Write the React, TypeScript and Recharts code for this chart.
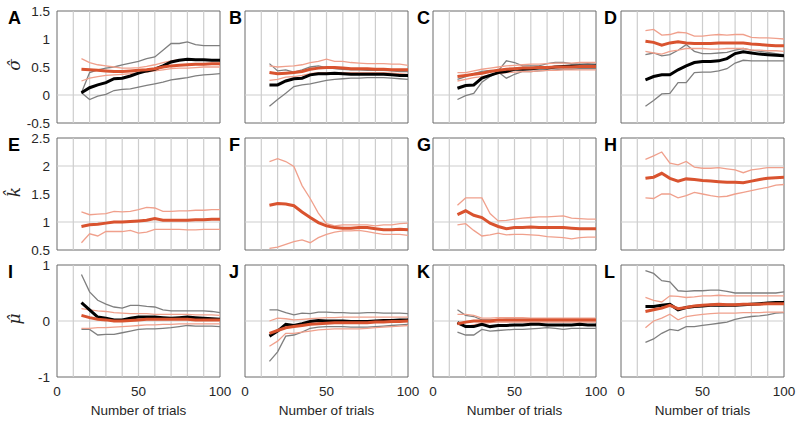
import React from 'react';
import { LineChart, Line, XAxis, YAxis, ReferenceLine, ReferenceArea } from 'recharts';

const trials = [15, 20, 25, 30, 35, 40, 45, 50, 55, 60, 65, 70, 75, 80, 85, 90, 95, 100];
const xTicks = [0, 50, 100];
const xGrid = [10, 20, 30, 40, 50, 60, 70, 80, 90];

const panelLetters = ['A', 'B', 'C', 'D', 'E', 'F', 'G', 'H', 'I', 'J', 'K', 'L'];
const rowLabels = ['σ̂', 'k̂', 'μ̂'];
const xAxisTitle = 'Number of trials';

const sigmaDomain = [-0.5, 1.5];
const sigmaTicks = [-0.5, 0, 0.5, 1, 1.5];
const sigmaGrid = [0];
const kappaDomain = [0.5, 2.5];
const kappaTicks = [0.5, 1, 1.5, 2, 2.5];
const kappaGrid = [1, 2];
const muDomain = [-1, 1];
const muTicks = [-1, 0, 1];
const muGrid = [0];

// Panel A (sigma)
const aObs = [0.04, 0.13, 0.18, 0.22, 0.29, 0.30, 0.34, 0.39, 0.43, 0.46, 0.52, 0.59, 0.62, 0.64, 0.63, 0.63, 0.62, 0.62];
const aObsHi = [0.04, 0.40, 0.45, 0.48, 0.50, 0.54, 0.57, 0.60, 0.65, 0.68, 0.80, 0.92, 0.92, 0.95, 0.90, 0.88, 0.88, 0.88];
const aObsLo = [0.04, -0.08, -0.02, 0.01, 0.08, 0.10, 0.11, 0.14, 0.17, 0.20, 0.23, 0.27, 0.29, 0.31, 0.34, 0.36, 0.37, 0.38];
const aFit = [0.46, 0.45, 0.44, 0.43, 0.42, 0.42, 0.43, 0.44, 0.45, 0.47, 0.50, 0.52, 0.53, 0.54, 0.55, 0.55, 0.56, 0.56];
const aFitHi = [0.65, 0.58, 0.54, 0.52, 0.50, 0.48, 0.48, 0.49, 0.51, 0.54, 0.58, 0.61, 0.63, 0.63, 0.63, 0.63, 0.63, 0.63];
const aFitLo = [0.25, 0.30, 0.33, 0.35, 0.36, 0.37, 0.38, 0.40, 0.41, 0.43, 0.45, 0.47, 0.48, 0.48, 0.49, 0.50, 0.50, 0.50];

// Panel B (sigma)
const bObs = [0.18, 0.18, 0.25, 0.29, 0.30, 0.36, 0.38, 0.38, 0.39, 0.38, 0.37, 0.37, 0.37, 0.37, 0.37, 0.36, 0.35, 0.35];
const bObsHi = [0.56, 0.43, 0.45, 0.41, 0.45, 0.50, 0.52, 0.49, 0.47, 0.46, 0.45, 0.45, 0.44, 0.44, 0.44, 0.43, 0.42, 0.42];
const bObsLo = [-0.20, -0.08, 0.03, 0.15, 0.18, 0.20, 0.23, 0.26, 0.28, 0.29, 0.30, 0.30, 0.31, 0.31, 0.31, 0.30, 0.29, 0.28];
const bFit = [0.40, 0.38, 0.39, 0.40, 0.42, 0.46, 0.48, 0.49, 0.49, 0.48, 0.47, 0.47, 0.47, 0.46, 0.46, 0.45, 0.45, 0.45];
const bFitHi = [0.52, 0.50, 0.51, 0.52, 0.54, 0.58, 0.60, 0.64, 0.60, 0.60, 0.58, 0.57, 0.56, 0.56, 0.56, 0.55, 0.55, 0.53];
const bFitLo = [0.26, 0.28, 0.32, 0.33, 0.35, 0.38, 0.40, 0.40, 0.40, 0.40, 0.40, 0.40, 0.40, 0.40, 0.40, 0.39, 0.38, 0.37];

// Panel C (sigma)
const cObs = [0.12, 0.17, 0.18, 0.30, 0.35, 0.40, 0.42, 0.46, 0.46, 0.47, 0.48, 0.48, 0.50, 0.51, 0.52, 0.52, 0.52, 0.52];
const cObsHi = [0.28, 0.33, 0.38, 0.42, 0.44, 0.43, 0.61, 0.58, 0.52, 0.52, 0.52, 0.56, 0.58, 0.58, 0.56, 0.55, 0.56, 0.55];
const cObsLo = [-0.08, -0.01, 0.03, 0.23, 0.33, 0.41, 0.30, 0.37, 0.42, 0.42, 0.43, 0.44, 0.45, 0.46, 0.46, 0.47, 0.47, 0.47];
const cFit = [0.33, 0.35, 0.37, 0.39, 0.42, 0.44, 0.46, 0.47, 0.48, 0.48, 0.49, 0.49, 0.50, 0.50, 0.50, 0.51, 0.51, 0.51];
const cFitHi = [0.40, 0.40, 0.43, 0.46, 0.48, 0.50, 0.52, 0.53, 0.54, 0.55, 0.55, 0.56, 0.57, 0.57, 0.57, 0.58, 0.58, 0.58];
const cFitLo = [0.25, 0.28, 0.31, 0.33, 0.36, 0.38, 0.40, 0.41, 0.42, 0.42, 0.43, 0.44, 0.44, 0.45, 0.45, 0.45, 0.45, 0.45];

// Panel D (sigma)
const dObs = [0.27, 0.33, 0.36, 0.36, 0.45, 0.52, 0.58, 0.60, 0.60, 0.61, 0.65, 0.74, 0.77, 0.75, 0.73, 0.72, 0.71, 0.70];
const dObsHi = [0.72, 0.75, 0.70, 0.72, 0.80, 0.90, 0.78, 0.74, 0.74, 0.75, 0.76, 0.80, 0.83, 0.80, 0.78, 0.76, 0.74, 0.72];
const dObsLo = [-0.20, -0.10, 0.02, 0.03, 0.22, 0.22, 0.40, 0.41, 0.41, 0.43, 0.47, 0.57, 0.62, 0.61, 0.61, 0.61, 0.61, 0.61];
const dFit = [0.96, 0.94, 0.89, 0.93, 0.95, 0.93, 0.92, 0.92, 0.92, 0.93, 0.93, 0.93, 0.93, 0.91, 0.90, 0.89, 0.88, 0.88];
const dFitHi = [1.15, 1.17, 1.07, 1.08, 1.12, 1.11, 1.05, 1.05, 1.07, 1.08, 1.07, 1.08, 1.08, 1.03, 1.02, 1.02, 1.01, 1.00];
const dFitLo = [0.78, 0.75, 0.73, 0.78, 0.80, 0.83, 0.83, 0.83, 0.82, 0.82, 0.83, 0.83, 0.83, 0.80, 0.80, 0.79, 0.79, 0.78];

// Panel E (kappa)
const eFit = [0.92, 0.95, 0.96, 0.98, 1.00, 1.00, 1.01, 1.02, 1.03, 1.06, 1.03, 1.03, 1.03, 1.03, 1.04, 1.04, 1.05, 1.05];
const eFitHi = [1.18, 1.13, 1.14, 1.15, 1.19, 1.18, 1.19, 1.22, 1.26, 1.25, 1.19, 1.19, 1.20, 1.20, 1.21, 1.21, 1.22, 1.22];
const eFitLo = [0.63, 0.79, 0.75, 0.83, 0.83, 0.83, 0.85, 0.80, 0.82, 0.87, 0.87, 0.87, 0.87, 0.86, 0.86, 0.87, 0.87, 0.87];

// Panel F (kappa)
const fFit = [1.30, 1.33, 1.32, 1.29, 1.18, 1.08, 0.99, 0.93, 0.90, 0.89, 0.89, 0.90, 0.90, 0.88, 0.86, 0.86, 0.87, 0.86];
const fFitHi = [2.08, 2.13, 2.08, 1.99, 1.65, 1.42, 1.16, 0.97, 0.93, 0.95, 0.95, 0.95, 0.95, 0.93, 0.95, 0.95, 0.97, 0.98];
const fFitLo = [0.53, 0.55, 0.60, 0.65, 0.68, 0.63, 0.72, 0.78, 0.82, 0.84, 0.84, 0.85, 0.83, 0.80, 0.78, 0.78, 0.78, 0.76];

// Panel G (kappa)
const gFit = [1.13, 1.20, 1.12, 1.08, 0.98, 0.92, 0.88, 0.90, 0.90, 0.91, 0.90, 0.90, 0.90, 0.90, 0.89, 0.88, 0.88, 0.88];
const gFitHi = [1.30, 1.43, 1.43, 1.43, 1.15, 1.02, 1.03, 1.05, 1.07, 1.08, 1.09, 1.09, 1.10, 1.11, 1.07, 1.06, 1.05, 1.05];
const gFitLo = [0.95, 0.97, 0.85, 0.75, 0.77, 0.80, 0.77, 0.78, 0.78, 0.77, 0.76, 0.74, 0.73, 0.72, 0.70, 0.72, 0.73, 0.73];

// Panel H (kappa)
const hFit = [1.78, 1.80, 1.87, 1.78, 1.73, 1.77, 1.76, 1.74, 1.73, 1.72, 1.71, 1.71, 1.70, 1.73, 1.76, 1.78, 1.79, 1.80];
const hFitHi = [2.12, 2.18, 2.25, 2.05, 2.02, 2.08, 1.98, 1.96, 1.96, 1.97, 1.95, 1.93, 1.88, 1.93, 1.95, 1.97, 1.97, 1.97];
const hFitLo = [1.43, 1.42, 1.50, 1.50, 1.43, 1.47, 1.53, 1.50, 1.47, 1.45, 1.46, 1.50, 1.53, 1.56, 1.59, 1.62, 1.66, 1.67];

// Panel I (mu)
const iObs = [0.33, 0.20, 0.07, 0.05, 0.02, 0.02, 0.05, 0.07, 0.07, 0.07, 0.06, 0.05, 0.06, 0.07, 0.06, 0.05, 0.04, 0.03];
const iObsHi = [0.83, 0.52, 0.37, 0.30, 0.25, 0.23, 0.28, 0.28, 0.26, 0.25, 0.20, 0.18, 0.18, 0.18, 0.18, 0.18, 0.17, 0.15];
const iObsLo = [-0.15, -0.15, -0.25, -0.24, -0.24, -0.21, -0.18, -0.15, -0.14, -0.14, -0.13, -0.12, -0.10, -0.08, -0.09, -0.09, -0.09, -0.10];
const iFit = [0.10, 0.06, 0.03, 0.02, 0.00, 0.00, 0.01, 0.02, 0.03, 0.03, 0.03, 0.03, 0.03, 0.03, 0.02, 0.02, 0.02, 0.02];
const iFitHi = [0.22, 0.20, 0.18, 0.17, 0.15, 0.14, 0.13, 0.13, 0.13, 0.12, 0.12, 0.12, 0.12, 0.12, 0.11, 0.11, 0.11, 0.10];
const iFitLo = [-0.13, -0.13, -0.12, -0.12, -0.11, -0.10, -0.09, -0.08, -0.07, -0.07, -0.06, -0.06, -0.05, -0.05, -0.05, -0.05, -0.05, -0.05];

// Panel J (mu)
const jObs = [-0.27, -0.18, -0.06, -0.08, -0.05, -0.01, 0.01, 0.00, 0.00, 0.00, -0.01, -0.01, -0.01, 0.00, 0.01, 0.01, 0.02, 0.02];
const jObsHi = [0.20, 0.20, 0.15, 0.11, 0.14, 0.13, 0.16, 0.16, 0.15, 0.15, 0.14, 0.14, 0.15, 0.15, 0.14, 0.14, 0.14, 0.13];
const jObsLo = [-0.72, -0.55, -0.27, -0.25, -0.20, -0.13, -0.11, -0.10, -0.10, -0.10, -0.11, -0.11, -0.11, -0.10, -0.09, -0.08, -0.07, -0.06];
const jFit = [-0.22, -0.17, -0.12, -0.10, -0.08, -0.06, -0.05, -0.04, -0.03, -0.03, -0.03, -0.03, -0.03, -0.02, -0.02, -0.01, -0.01, 0.00];
const jFitHi = [0.00, 0.05, 0.04, 0.02, 0.03, 0.04, 0.05, 0.06, 0.06, 0.07, 0.07, 0.07, 0.07, 0.07, 0.07, 0.07, 0.07, 0.07];
const jFitLo = [-0.45, -0.36, -0.22, -0.22, -0.20, -0.18, -0.16, -0.15, -0.14, -0.14, -0.14, -0.14, -0.13, -0.12, -0.11, -0.10, -0.09, -0.08];

// Panel K (mu)
const kObs = [-0.03, -0.10, -0.10, -0.06, -0.10, -0.08, -0.08, -0.07, -0.07, -0.06, -0.06, -0.07, -0.07, -0.07, -0.07, -0.06, -0.07, -0.07];
const kObsHi = [0.20, 0.10, 0.08, 0.02, 0.02, 0.02, 0.03, 0.03, 0.03, 0.03, 0.03, 0.03, 0.03, 0.03, 0.03, 0.03, 0.03, 0.03];
const kObsLo = [-0.20, -0.25, -0.25, -0.15, -0.18, -0.17, -0.16, -0.15, -0.15, -0.14, -0.13, -0.12, -0.13, -0.15, -0.13, -0.13, -0.13, -0.13];
const kFit = [-0.05, -0.02, 0.00, 0.00, 0.00, 0.02, 0.02, 0.02, 0.02, 0.02, 0.02, 0.02, 0.02, 0.02, 0.02, 0.02, 0.02, 0.02];
const kFitHi = [0.12, 0.12, 0.10, 0.05, 0.05, 0.06, 0.06, 0.06, 0.06, 0.05, 0.05, 0.05, 0.05, 0.05, 0.05, 0.05, 0.05, 0.05];
const kFitLo = [-0.05, -0.10, -0.07, -0.04, -0.03, -0.02, -0.02, -0.02, -0.02, -0.02, -0.02, -0.02, -0.02, -0.02, -0.02, -0.02, -0.02, -0.02];

// Panel L (mu)
const lObs = [0.26, 0.26, 0.28, 0.30, 0.20, 0.24, 0.26, 0.27, 0.28, 0.28, 0.28, 0.28, 0.29, 0.30, 0.31, 0.32, 0.33, 0.33];
const lObsHi = [0.90, 0.85, 0.72, 0.70, 0.54, 0.53, 0.54, 0.54, 0.55, 0.55, 0.53, 0.50, 0.50, 0.50, 0.50, 0.50, 0.50, 0.52];
const lObsLo = [-0.38, -0.32, -0.22, -0.15, -0.17, -0.10, -0.10, -0.08, -0.06, -0.04, -0.02, 0.03, 0.06, 0.08, 0.09, 0.11, 0.14, 0.15];
const lFit = [0.17, 0.20, 0.23, 0.28, 0.22, 0.24, 0.27, 0.28, 0.29, 0.30, 0.29, 0.29, 0.30, 0.30, 0.30, 0.31, 0.31, 0.31];
const lFitHi = [0.42, 0.37, 0.34, 0.45, 0.44, 0.42, 0.43, 0.45, 0.45, 0.46, 0.45, 0.45, 0.45, 0.45, 0.45, 0.45, 0.45, 0.45];
const lFitLo = [-0.12, 0.00, 0.05, 0.12, 0.02, 0.08, 0.10, 0.12, 0.13, 0.14, 0.14, 0.14, 0.15, 0.15, 0.15, 0.16, 0.16, 0.16];

type Series = {
  obs?: number[]; obsHi?: number[]; obsLo?: number[];
  fit: number[]; fitHi: number[]; fitLo: number[];
};

const panels: Series[] = [
  { obs: aObs, obsHi: aObsHi, obsLo: aObsLo, fit: aFit, fitHi: aFitHi, fitLo: aFitLo },
  { obs: bObs, obsHi: bObsHi, obsLo: bObsLo, fit: bFit, fitHi: bFitHi, fitLo: bFitLo },
  { obs: cObs, obsHi: cObsHi, obsLo: cObsLo, fit: cFit, fitHi: cFitHi, fitLo: cFitLo },
  { obs: dObs, obsHi: dObsHi, obsLo: dObsLo, fit: dFit, fitHi: dFitHi, fitLo: dFitLo },
  { fit: eFit, fitHi: eFitHi, fitLo: eFitLo },
  { fit: fFit, fitHi: fFitHi, fitLo: fFitLo },
  { fit: gFit, fitHi: gFitHi, fitLo: gFitLo },
  { fit: hFit, fitHi: hFitHi, fitLo: hFitLo },
  { obs: iObs, obsHi: iObsHi, obsLo: iObsLo, fit: iFit, fitHi: iFitHi, fitLo: iFitLo },
  { obs: jObs, obsHi: jObsHi, obsLo: jObsLo, fit: jFit, fitHi: jFitHi, fitLo: jFitLo },
  { obs: kObs, obsHi: kObsHi, obsLo: kObsLo, fit: kFit, fitHi: kFitHi, fitLo: kFitLo },
  { obs: lObs, obsHi: lObsHi, obsLo: lObsLo, fit: lFit, fitHi: lFitHi, fitLo: lFitLo },
];

const rowDomains = [sigmaDomain, kappaDomain, muDomain];
const rowTicks = [sigmaTicks, kappaTicks, muTicks];
const rowGrids = [sigmaGrid, kappaGrid, muGrid];

// layout
const PLOT_LEFT = [57, 245, 433, 621];
const PLOT_TOP = [11, 138, 265];
const PLOT_W = 163;
const PLOT_H = 112;
const YW = 50;
const PAD_TOP = 7;
const PAD_BOTTOM = 8;
const RIGHT = 14;
const XH = 26;
const LETTER_X = [8, 229, 417, 604];

const GRAY = '#7f7f7f';
const BLACK = '#000000';
const RED = '#d9532f';
const LIGHTRED = '#f0a08c';
const GRID = '#cdcdcd';
const AXIS = '#6a6a6a';
const TEXT = '#262626';
const FONT = '"Liberation Sans", Arial, Helvetica, sans-serif';

function YTick(props: any) {
  const { x, y, payload } = props;
  return (
    <text x={x} y={y} dy="0.35em" textAnchor="end" fontSize={13.5} fontFamily={FONT} fill={TEXT}>
      {String(payload.value)}
    </text>
  );
}

function XTick(props: any) {
  const { x, y, payload } = props;
  return (
    <text x={x} y={y} dy="0.8em" textAnchor="middle" fontSize={13.5} fontFamily={FONT} fill={TEXT}>
      {String(payload.value)}
    </text>
  );
}

function Panel({ index }: { index: number }) {
  const row = Math.floor(index / 4);
  const col = index % 4;
  const s = panels[index];
  const data = trials.map((t, i) => ({
    t,
    obs: s.obs ? s.obs[i] : undefined,
    obsHi: s.obsHi ? s.obsHi[i] : undefined,
    obsLo: s.obsLo ? s.obsLo[i] : undefined,
    fit: s.fit[i],
    fitHi: s.fitHi[i],
    fitLo: s.fitLo[i],
  }));
  const dom = rowDomains[row];
  const bottom = row === 2;
  const height = PAD_TOP + PLOT_H + (bottom ? XH : PAD_BOTTOM);
  return (
    <div style={{ position: 'absolute', left: PLOT_LEFT[col] - YW, top: PLOT_TOP[row] - PAD_TOP }}>
      <LineChart
        width={YW + PLOT_W + RIGHT}
        height={height}
        data={data}
        margin={{ top: PAD_TOP, right: RIGHT, bottom: bottom ? 0 : PAD_BOTTOM, left: 0 }}
      >
        <XAxis
          dataKey="t"
          type="number"
          domain={[0, 100]}
          ticks={xTicks}
          interval={0}
          hide={!bottom}
          height={XH}
          axisLine={false}
          tickLine={false}
          tickSize={5}
          tickMargin={3}
          tick={<XTick />}
          allowDataOverflow
        />
        <YAxis
          type="number"
          domain={dom}
          ticks={rowTicks[row]}
          interval={0}
          width={YW}
          axisLine={false}
          tickLine={false}
          tickSize={5}
          tickMargin={2}
          tick={col === 0 ? <YTick /> : false}
          allowDataOverflow
        />
        {xGrid.map((g) => (
          <ReferenceLine key={'v' + g} x={g} stroke={GRID} strokeWidth={1.2} />
        ))}
        {rowGrids[row].map((g) => (
          <ReferenceLine key={'h' + g} y={g} stroke={GRID} strokeWidth={1.2} />
        ))}
        {s.obs && (
          <Line dataKey="obsHi" stroke={GRAY} strokeWidth={1.3} dot={false} isAnimationActive={false} />
        )}
        {s.obs && (
          <Line dataKey="obsLo" stroke={GRAY} strokeWidth={1.3} dot={false} isAnimationActive={false} />
        )}
        <Line dataKey="fitHi" stroke={LIGHTRED} strokeWidth={1.3} dot={false} isAnimationActive={false} />
        <Line dataKey="fitLo" stroke={LIGHTRED} strokeWidth={1.3} dot={false} isAnimationActive={false} />
        {s.obs && (
          <Line dataKey="obs" stroke={BLACK} strokeWidth={3} dot={false} isAnimationActive={false} />
        )}
        <Line dataKey="fit" stroke={RED} strokeWidth={3} dot={false} isAnimationActive={false} />
        <ReferenceArea
          x1={0}
          x2={100}
          y1={dom[0]}
          y2={dom[1]}
          fill="none"
          fillOpacity={0}
          stroke={AXIS}
          strokeWidth={1}
          ifOverflow="visible"
        />
      </LineChart>
    </div>
  );
}

export default function App() {
  return (
    <div style={{ position: 'absolute', left: 0, top: 0, width: 800, height: 424, background: '#fff', overflow: 'hidden' }}>
      {panels.map((_, i) => (
        <Panel key={i} index={i} />
      ))}
      <svg width={800} height={424} style={{ position: 'absolute', left: 0, top: 0, pointerEvents: 'none' }}>
        {panelLetters.map((l, i) => {
          const row = Math.floor(i / 4);
          const col = i % 4;
          return (
            <text key={l} x={LETTER_X[col]} y={PLOT_TOP[row] + 13} fontSize={18} fontWeight="bold" fontFamily={FONT} fill="#000">
              {l}
            </text>
          );
        })}
        {rowLabels.map((lab, r) => {
          const cy = PLOT_TOP[r] + PLOT_H / 2 - 2;
          return (
            <text
              key={r}
              x={20}
              y={cy}
              transform={`rotate(-90, 20, ${cy})`}
              textAnchor="middle"
              fontSize={17}
              fontStyle="italic"
              fontFamily='"DejaVu Serif", "Liberation Serif", serif'
              fill={TEXT}
            >
              {lab}
            </text>
          );
        })}
        {PLOT_LEFT.map((x, c) => (
          <text key={c} x={x + PLOT_W / 2} y={415} textAnchor="middle" fontSize={13.5} fontFamily={FONT} fill={TEXT}>
            {xAxisTitle}
          </text>
        ))}
      </svg>
    </div>
  );
}
